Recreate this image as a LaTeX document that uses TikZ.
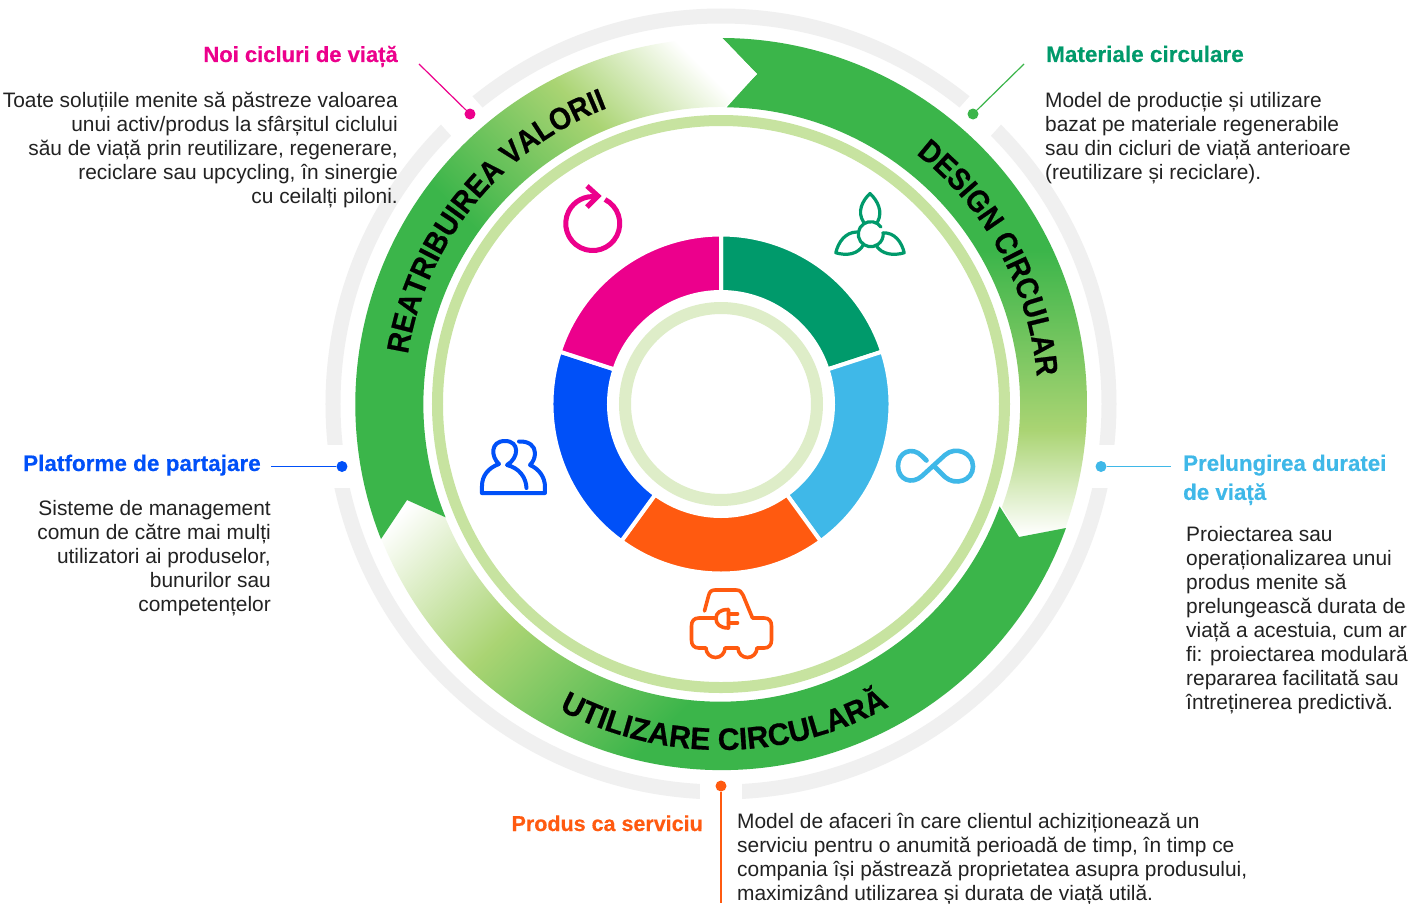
\documentclass[tikz,border=0pt]{standalone}
\usepackage{fontspec}
\setmainfont[BoldFeatures={FakeBold=0.35}]{Liberation Sans}
\newfontfamily\ringfam[BoldFeatures={FakeBold=0.6,FakeStretch=0.9}]{Liberation Sans}
\newfontfamily\ringfamb[BoldFeatures={FakeBold=0.6,FakeStretch=0.97}]{Liberation Sans}
\usetikzlibrary{decorations.text}
\definecolor{gr}{HTML}{3BB54A}
\definecolor{gl}{HTML}{AAD473}
\definecolor{ringl}{HTML}{C7E3A0}
\definecolor{ringi}{HTML}{DEEDC8}
\definecolor{grayr}{HTML}{F0F0F0}
\definecolor{cpink}{HTML}{EC008C}
\definecolor{cgreen}{HTML}{009A6B}
\definecolor{csky}{HTML}{3FB8E8}
\definecolor{cblue}{HTML}{0050F8}
\definecolor{corange}{HTML}{FF5A10}
\definecolor{ctext}{HTML}{222222}
\pgfdeclareverticalshading{sA}{1200pt}{color(0pt)=(gr); color(446pt)=(gr); color(626pt)=(gl); color(731pt)=(white); color(1200pt)=(white)}
\pgfdeclareverticalshading{sB}{1200pt}{color(0pt)=(gr); color(410pt)=(gr); color(590pt)=(gl); color(750pt)=(white); color(1200pt)=(white)}
\pgfdeclareverticalshading{sC}{1200pt}{color(0pt)=(gr); color(550pt)=(gr); color(710pt)=(gl); color(825pt)=(white); color(1200pt)=(white)}
\newcommand{\ringfont}{\fontsize{31pt}{31pt}\selectfont\ringfam\bfseries}
\newcommand{\ringfontb}{\fontsize{31pt}{31pt}\selectfont\ringfamb\bfseries}
\newcommand{\donutseg}[2]{\fill[draw=white,line width=4pt,fill=#2] (#1:169.5) arc[start angle=#1,delta angle=-72,radius=169.5] -- ({#1-72}:112) arc[start angle={#1-72},delta angle=72,radius=112] -- cycle;}
\tikzset{
  body/.style={font=\fontsize{20.9pt}{24pt}\selectfont,text=ctext,inner sep=0pt},
  head/.style={font=\fontsize{#1}{29pt}\selectfont\bfseries,inner sep=0pt},
  head/.default=22.5pt,
  dot/.style={circle,fill=#1,minimum size=11pt,inner sep=0pt},
  lead/.style={draw=#1,line width=1.7pt},
  icon/.style={draw=#1,line cap=round,line join=round,fill=none}
}
\begin{document}
\begin{tikzpicture}[x=1pt,y=1pt]
\useasboundingbox (-721,-499) rectangle (702,404);
\fill[white] (-721,-499) rectangle (702,404);
% grey ring with gaps
\draw[grayr,line width=15pt] (0,0) circle[radius=388];
\fill[white] (-400,-84) rectangle (-370,-41);
\fill[white] (370,-84) rectangle (400,-41);
\fill[white] (-21,-405) rectangle (21,-370);
\fill[white,rotate=48] (370,-21) rectangle (405,21);
\fill[white,rotate=132] (370,-21) rectangle (405,21);
% arrow key points
\coordinate (tA) at (89.8:366);
\coordinate (nA) at (36,330);
\coordinate (iA) at (4,297);
\coordinate (tB) at (345,-124);
\coordinate (nB) at (298,-133);
\coordinate (iB) at (281,-103);
\coordinate (tC) at (-340,-135);
\coordinate (nC) at (-314,-96);
\coordinate (iC) at (-276,-113);
% arrow 1
\begin{scope}
\clip (tA) arc[start angle=89.8,end angle=-19.8,radius=366] -- (nB) -- (iB) arc[start angle=-20.1,end angle=89.2,radius=297.5] -- (nA) -- cycle;
\node[inner sep=0pt,rotate=180] (shadeA) at (0,0) {\pgfuseshading{sA}};
\end{scope}
% arrow 2
\begin{scope}
\clip (tB) arc[start angle=-19.8,end angle=-158.4,radius=366] -- (nC) -- (iC) arc[start angle=-157.7,end angle=-20.1,radius=297.5] -- (nB) -- cycle;
\node[inner sep=0pt,rotate=45] (shadeB) at (0,0) {\pgfuseshading{sB}};
\end{scope}
% arrow 3
\begin{scope}
\clip (tC) arc[start angle=201.6,end angle=89.8,radius=366] -- (nA) -- (iA) arc[start angle=89.2,end angle=202.3,radius=297.5] -- (nC) -- cycle;
\node[inner sep=0pt,rotate=-45] (shadeC) at (0,0) {\pgfuseshading{sC}};
\end{scope}
% light rings
\draw[ringl,line width=11pt] (0,0) circle[radius=283.5];
\draw[ringi,line width=12pt] (0,0) circle[radius=96];
% donut
\donutseg{90}{cgreen}
\donutseg{18}{csky}
\donutseg{-54}{corange}
\donutseg{-126}{cblue}
\donutseg{162}{cpink}
% ring texts
\path[decorate,decoration={text along path,text align=center,text={|\ringfont|REATRIBUIREA VALORII}}] (179:317) arc[start angle=179,end angle=103,radius=317];
\path[decorate,decoration={text along path,text align=center,text={|\ringfont|DESIGN CIRCULAR}}] (65.5:317) arc[start angle=65.5,end angle=-8.5,radius=317];
\path[decorate,decoration={text along path,text align=center,text={|\ringfontb|UTILIZARE CIRCULARĂ}}] (-127.4:346) arc[start angle=-127.4,end angle=-51.4,radius=346];
% icons (image coordinates shifted to the centre)
\begin{scope}[shift={(-721,404)},y=-1pt]
 % refresh
 \draw[icon=cpink,line width=5pt,line cap=butt] (605,199.5) arc[start angle=-63,delta angle=342,radius=27];
 \draw[icon=cpink,line width=5pt,line cap=butt,line join=miter] (587,186) -- (598,196) -- (587,207);
 % turbine
 \foreach \a in {0,120,240}{
  \begin{scope}[shift={(870,233)},rotate=\a,shift={(-870,-233)}]
  \draw[icon=cgreen,line width=3.2pt] (863.5,222) .. controls (857,212) and (862,201) .. (870,193.5) .. controls (878,201) and (883,212) .. (877.5,222);
  \end{scope}
 }
 \draw[icon=cgreen,line width=3.2pt] (881,227) arc[start angle=-35,delta angle=-330,radius=12.5];
 % car
 \draw[icon=corange,line width=3.6pt] (704.5,611) -- (708.5,596) .. controls (709.5,592) and (711,590) .. (715,590) -- (736,590) .. controls (740,590) and (741.5,592) .. (743,595) -- (752.5,618) -- (764,618) .. controls (769,618) and (771.5,621) .. (771.5,626) -- (771.5,640) .. controls (771.5,645) and (769,648) .. (764,648) -- (757,648) arc[start angle=0,delta angle=180,radius=9.5] -- (725,648) arc[start angle=0,delta angle=180,radius=9.5] -- (699,648) .. controls (694,648) and (691.5,645) .. (691.5,640) -- (691.5,626) .. controls (691.5,621) and (694,618) .. (699,618) -- (715,618);
 \draw[icon=corange,line width=3.6pt] (728.5,609.5) -- (728.5,628) .. controls (720,628) and (716,624) .. (716,618.5) .. controls (716,613) and (720,609.5) .. (728.5,609.5);
 \draw[icon=corange,line width=3.6pt] (728.5,614) -- (737.5,614) (728.5,622.7) -- (737.5,622.7);
 % people
 \draw[icon=cblue,line width=4pt] (482,493) -- (545,493) -- (545,487) .. controls (545,477) and (539,469) .. (530,465) .. controls (533,462) and (535,458) .. (535,453) .. controls (535,446) and (529,441) .. (519,441.5);
 \draw[icon=cblue,line width=4pt] (482,493) -- (482,486) .. controls (482,476) and (488,468) .. (499,464) .. controls (491,457) and (490,441) .. (505,441) .. controls (520,441) and (519,458) .. (507,465) .. controls (519,468) and (526,477) .. (526.5,488);
 % infinity
 \draw[icon=csky,line width=4.6pt] (926.5,460.5) -- (922,456) .. controls (912,446) and (898,452) .. (898,466) .. controls (898,480) and (912,485) .. (922,476) -- (945,455) .. controls (955,446) and (973,452) .. (973,466.5) .. controls (973,481) and (955,486) .. (945,477) -- (934,466);
\end{scope}
% connectors
\node[dot=cpink] (dpink) at (-251,290) {};
\coordinate (epink) at (-302,340);
\draw[draw=cpink,line width=1.2pt] (dpink) -- (epink);
\node[dot=gr] (dgreen) at (252,290) {};
\coordinate (egreen) at (303,340);
\draw[draw=gr,line width=1.2pt] (dgreen) -- (egreen);
\node[dot=cblue] (dblue) at (-379,-62.5) {};
\coordinate (eblue) at (-450,-62.5);
\draw[lead=cblue] (dblue) -- (eblue);
\node[dot=csky] (dsky) at (380,-62.5) {};
\coordinate (esky) at (450,-62.5);
\draw[lead=csky] (dsky) -- (esky);
\node[dot=corange] (dorange) at (0,-382) {};
\coordinate (eorange) at (0,-499);
\draw[corange,line width=2.2pt] (dorange) -- (eorange);
% headings
\node[head=22pt,anchor=base east,text=cpink] (h1) at (-323,342) {Noi cicluri de viață};
\node[head,anchor=base west,text=cgreen] (h2) at (325,342) {Materiale circulare};
\node[head,anchor=base east,text=cblue] (h3) at (-460,-67) {Platforme de partajare};
\node[head=22.3pt,anchor=north west,text=csky,align=left] (h4) at (462,-50.5) {Prelungirea duratei\\de viață};
\node[head=21.5pt,anchor=base east,text=corange] (h5) at (-18,-427) {Produs ca serviciu};
% bodies
\node[body,anchor=north east,align=right] (b1) at (-323,312) {Toate soluțiile menite să păstreze valoarea\\unui activ/produs la sfârșitul ciclului\\său de viață prin reutilizare, regenerare,\\reciclare sau upcycling, în sinergie\\cu ceilalți piloni.};
\node[body,anchor=north west,align=left] (b2) at (324,312) {Model de producție și utilizare\\bazat pe materiale regenerabile\\sau din cicluri de viață anterioare\\(reutilizare și reciclare).};
\node[body,anchor=north east,align=right] (b3) at (-450,-96.5) {Sisteme de management\\comun de către mai mulți\\utilizatori ai produselor,\\bunurilor sau\\competențelor};
\node[body,anchor=north west,align=left] (b4) at (465,-122.5) {Proiectarea sau\\operaționalizarea unui\\produs menite să\\prelungească durata de\\viață a acestuia, cum ar\\fi: proiectarea modulară\\repararea facilitată sau\\întreținerea predictivă.};
\node[body,anchor=north west,align=left] (b5) at (16,-409) {Model de afaceri în care clientul achiziționează un\\serviciu pentru o anumită perioadă de timp, în timp ce\\compania își păstrează proprietatea asupra produsului,\\maximizând utilizarea și durata de viață utilă.};
\end{tikzpicture}
\end{document}
